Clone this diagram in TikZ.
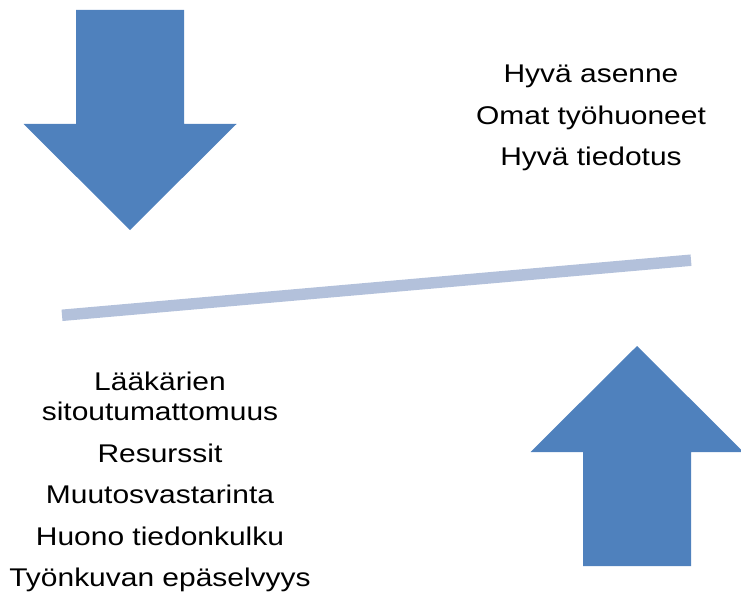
\documentclass[tikz,border=0pt]{standalone}
\usepackage{fontspec}
\setmainfont{Liberation Sans}[FakeStretch=1.17]
\usepackage{tikz}
\usetikzlibrary{calc}

\definecolor{arrowblue}{RGB}{79,129,189}
\definecolor{beamblue}{RGB}{179,193,219}

\begin{document}
\begin{tikzpicture}[x=0.75pt,y=-0.75pt]
    \tikzset{
      factor/.style={anchor=base, inner sep=0pt, align=center,
        font=\fontsize{19.2}{22.5}\selectfont}
    }
    \useasboundingbox (0,0) rectangle (741,599);
    \def\sw{54}\def\hw{106.5}
    \def\sl{114}\def\hl{106}
    \def\arrows{
      % Draw the two block arrows
      \foreach \cx/\cy/\d in {130/10/1, 637/566/-1} {
        \begin{scope}[shift={(\cx,\cy)}, yscale=\d]
          \fill [arrowblue] (-\sw,0) -- (\sw,0) -- (\sw,\sl) -- (\hw,\sl)
            -- (0,\sl+\hl) -- (-\hw,\sl) -- (-\sw,\sl) -- cycle;
        \end{scope}
      }
    }
    \def\beam{
      \coordinate (b0) at (62,315.3);
      \coordinate (b1) at (691,260.2);
      \draw [beamblue, line width=8.6pt] (b0) -- (b1);
    }
    \def\goodFactors{
      \node [factor] (g1) at (591,82.5) {Hyvä asenne};
      \node [factor] (g2) at (591,124) {Omat työhuoneet};
      \node [factor] (g3) at (591,165.5) {Hyvä tiedotus};
    }
    \def\badFactors{
      % base of a two-line node is its last line
      \node [factor] (p1) at (160,420) {Lääkärien\\sitoutumattomuus};
      \node [factor] (p2) at (160,462) {Resurssit};
      \node [factor] (p3) at (160,503.5) {Muutosvastarinta};
      \node [factor] (p4) at (160,545) {Huono tiedonkulku};
      \node [factor] (p5) at (160,586.7) {Työnkuvan epäselvyys};
    }
    \arrows
    \beam
    \goodFactors
    \badFactors
  \end{tikzpicture}
\end{document}
